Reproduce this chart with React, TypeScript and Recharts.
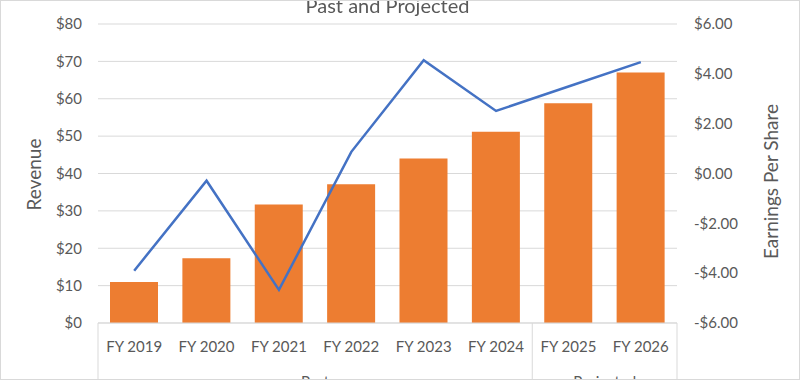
import { ComposedChart, Bar, Line, XAxis, YAxis, CartesianGrid } from 'recharts'

const categories = ['FY 2019', 'FY 2020', 'FY 2021', 'FY 2022', 'FY 2023', 'FY 2024', 'FY 2025', 'FY 2026']
const groups     = ['Past', 'Past', 'Past', 'Past', 'Past', 'Past', 'Projected', 'Projected']
const revenue    = [11.0, 17.3, 31.7, 37.1, 44.0, 51.2, 58.8, 67.0]
const eps        = [-3.9, -0.29, -4.67, 0.87, 4.55, 2.51, 3.49, 4.47]
const revenueTicks = [0, 10, 20, 30, 40, 50, 60, 70, 80]
const epsTicks     = [-6, -4, -2, 0, 2, 4, 6]

const W = 800
const H = 380
const LEFT_W = 98
const RIGHT_W = 123
const PLOT_W = W - LEFT_W - RIGHT_W
const BAND = PLOT_W / categories.length

const TEXT = '#595959'
const GRID = '#D9D9D9'
const FONT = 'Lato, "Open Sans", sans-serif'

const data = categories.map((c, i) => ({ name: c, group: groups[i], revenue: revenue[i], eps: eps[i] }))

function fmtEps(v: number): string {
  return v < 0 ? `-$${Math.abs(v).toFixed(2)}` : `$${v.toFixed(2)}`
}

function CategoryTick({ x, y, payload }: any) {
  const i = payload.index as number
  const first = i === 0 || groups[i] !== groups[i - 1]
  const last = i === categories.length - 1
  let groupLabel = null
  if (first) {
    let n = 0
    while (groups[i + n] === groups[i]) n++
    const cx = x - BAND / 2 + (n * BAND) / 2
    groupLabel = (
      <text x={cx} y={y + 64} textAnchor="middle" fill={TEXT} fontSize={15} fontFamily={FONT}>
        {groups[i]}
      </text>
    )
  }
  return (
    <g>
      <text x={x} y={y + 29} textAnchor="middle" fill={TEXT} fontSize={15} fontFamily={FONT}>
        {payload.value}
      </text>
      {first && <line x1={x - BAND / 2} x2={x - BAND / 2} y1={y} y2={y + 70} stroke={GRID} />}
      {last && <line x1={x + BAND / 2} x2={x + BAND / 2} y1={y} y2={y + 70} stroke={GRID} />}
      {groupLabel}
    </g>
  )
}

function axisTitle(text: string, offsetX: number, offsetY: number) {
  return (props: any) => {
    const vb = props.viewBox ?? {}
    const cx = (vb.x ?? 0) + offsetX
    const cy = (vb.y ?? 24) + (vb.height ?? 299) / 2 + offsetY
    return (
      <text
        x={cx}
        y={cy}
        transform={`rotate(-90, ${cx}, ${cy})`}
        textAnchor="middle"
        dominantBaseline="central"
        fill={TEXT}
        fontSize={19}
        fontFamily={FONT}
      >
        {text}
      </text>
    )
  }
}

export default function App() {
  return (
    <div style={{ position: 'fixed', left: 0, top: 0, width: W, height: H, background: '#fff', fontFamily: FONT }}>
      <ComposedChart
        width={W}
        height={H}
        data={data}
        margin={{ top: 24, right: 0, bottom: 0, left: 0 }}
      >
        <CartesianGrid yAxisId="rev" vertical={false} stroke={GRID} />
        <XAxis
          dataKey="name"
          height={57}
          axisLine={{ stroke: GRID }}
          tickLine={false}
          tickSize={0}
          tickMargin={0}
          interval={0}
          tick={<CategoryTick />}
        />
        <YAxis
          yAxisId="rev"
          orientation="left"
          width={LEFT_W}
          domain={[0, 80]}
          ticks={revenueTicks}
          axisLine={false}
          tickLine={false}
          tickSize={0}
          tickMargin={16}
          tick={{ fill: TEXT, fontSize: 15, fontFamily: FONT }}
          tickFormatter={(v: number) => `$${v}`}
          label={axisTitle('Revenue', 33, 1)}
        />
        <YAxis
          yAxisId="eps"
          orientation="right"
          width={RIGHT_W}
          domain={[-6, 6]}
          ticks={epsTicks}
          axisLine={false}
          tickLine={false}
          tickSize={0}
          tickMargin={17}
          tick={{ fill: TEXT, fontSize: 15, fontFamily: FONT, textAnchor: 'start' }}
          tickFormatter={fmtEps}
          label={axisTitle('Earnings Per Share', 93, 8)}
        />
        <Bar yAxisId="rev" dataKey="revenue" fill="#ED7D31" barSize={48} isAnimationActive={false} />
        <Line
          yAxisId="eps"
          type="linear"
          dataKey="eps"
          stroke="#4472C4"
          strokeWidth={2.5}
          dot={false}
          activeDot={false}
          isAnimationActive={false}
        />
      </ComposedChart>
      <div
        style={{
          position: 'absolute',
          left: LEFT_W,
          width: PLOT_W,
          top: -4,
          textAlign: 'center',
          fontSize: 20,
          lineHeight: '18px',
          color: TEXT,
        }}
      >
        Past and Projected
      </div>
      <div style={{ position: 'absolute', inset: 0, border: `1px solid ${GRID}`, pointerEvents: 'none' }} />
    </div>
  )
}
